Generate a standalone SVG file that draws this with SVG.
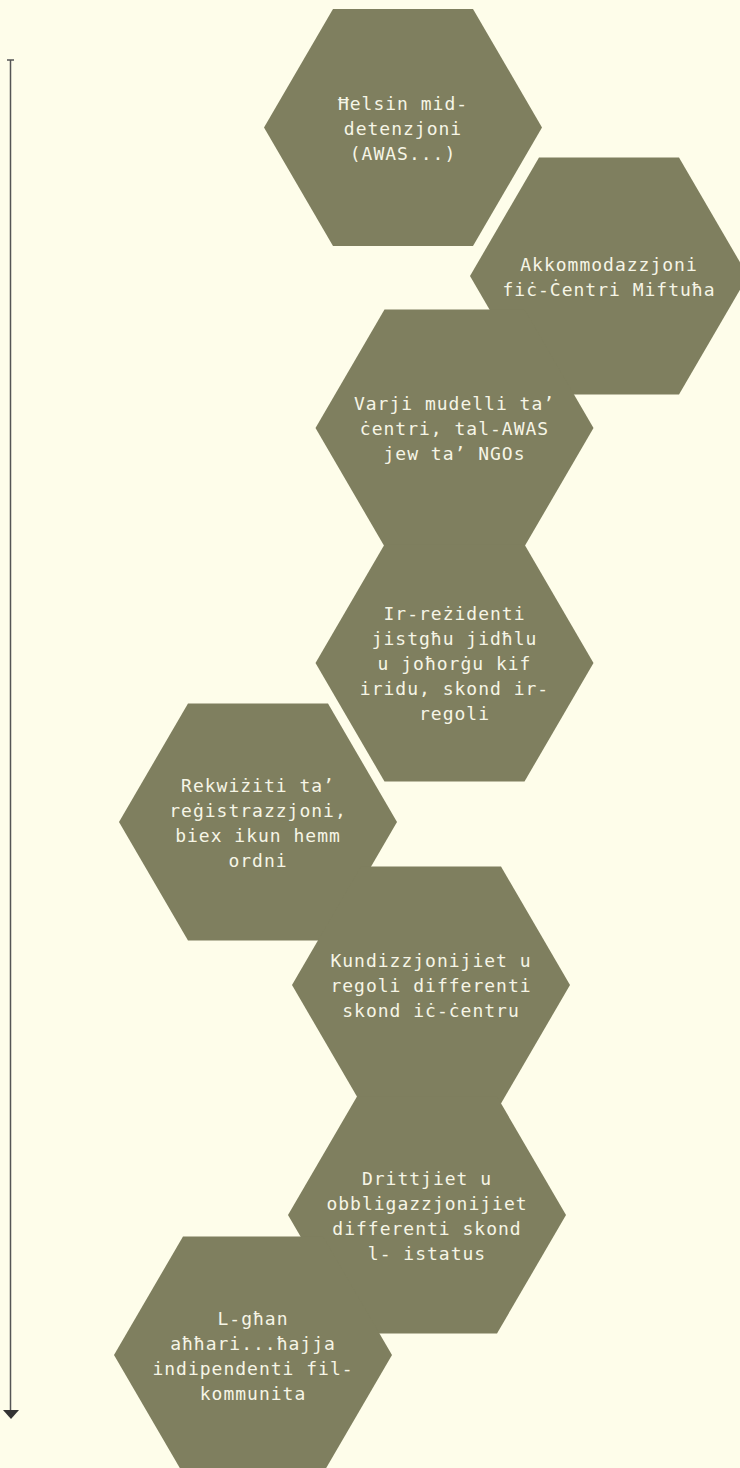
<svg xmlns="http://www.w3.org/2000/svg" width="740" height="1468" viewBox="0 0 740 1468">
<defs>
<style>
.bg{fill:#fefdea}
.hex{fill:#7f7f5f}
.t{fill:#f6f5e6;font-family:"DejaVu Sans Mono","Liberation Mono",monospace;font-size:18px;letter-spacing:1px;text-anchor:middle}
.axis{stroke:#555555;stroke-width:1.5;fill:none}
</style>
<marker id="ah" viewBox="0 0 10 10" refX="5" refY="5" markerWidth="10" markerHeight="10" markerUnits="userSpaceOnUse" orient="auto">
<path d="M0,0 L10,5 L0,10 Z" fill="#333333"/>
</marker>
</defs>
<rect class="bg" x="0" y="0" width="740" height="1468"/>
<g id="connectors">
<line class="axis" x1="10.5" y1="60" x2="10.5" y2="1410"/>
<line class="axis" x1="7" y1="60" x2="14" y2="60"/>
<path d="M3,1410 L19,1410 L11,1419 Z" fill="#333333"/>
</g>
<g id="n1">
<polygon class="hex" points="264,127.5 333,9 473,9 542,127.5 473,246 333,246"/>
<text class="t"><tspan x="403" y="110">Ħelsin mid-</tspan><tspan x="403" y="135">detenzjoni</tspan><tspan x="403" y="160">(AWAS...)</tspan></text>
</g>
<g id="n2">
<polygon class="hex" points="470,276 539,157.5 679,157.5 748,276 679,394.5 539,394.5"/>
<text class="t"><tspan x="609" y="270.5">Akkommodazzjoni</tspan><tspan x="609" y="295.5">fiċ-Ċentri Miftuħa</tspan></text>
</g>
<g id="n3">
<polygon class="hex" points="315.5,428 384.5,309.5 524.5,309.5 593.5,428 524.5,546.5 384.5,546.5"/>
<text class="t"><tspan x="454.5" y="410">Varji mudelli ta’</tspan><tspan x="454.5" y="435">ċentri, tal-AWAS</tspan><tspan x="454.5" y="460">jew ta’ NGOs</tspan></text>
</g>
<g id="n4">
<polygon class="hex" points="315.5,663 384.5,544.5 524.5,544.5 593.5,663 524.5,781.5 384.5,781.5"/>
<text class="t"><tspan x="454.5" y="620">Ir-reżidenti</tspan><tspan x="454.5" y="645">jistgħu jidħlu</tspan><tspan x="454.5" y="670">u joħorġu kif</tspan><tspan x="454.5" y="695">iridu, skond ir-</tspan><tspan x="454.5" y="720">regoli</tspan></text>
</g>
<g id="n5">
<polygon class="hex" points="119,822 188,703.5 328,703.5 397,822 328,940.5 188,940.5"/>
<text class="t"><tspan x="258" y="791.5">Rekwiżiti ta’</tspan><tspan x="258" y="816.5">reġistrazzjoni,</tspan><tspan x="258" y="841.5">biex ikun hemm</tspan><tspan x="258" y="866.5">ordni</tspan></text>
</g>
<g id="n6">
<polygon class="hex" points="292,985 361,866.5 501,866.5 570,985 501,1103.5 361,1103.5"/>
<text class="t"><tspan x="431" y="967">Kundizzjonijiet u</tspan><tspan x="431" y="992">regoli differenti</tspan><tspan x="431" y="1017">skond iċ-ċentru</tspan></text>
</g>
<g id="n7">
<polygon class="hex" points="288,1215 357,1096.5 497,1096.5 566,1215 497,1333.5 357,1333.5"/>
<text class="t"><tspan x="427" y="1184.5">Drittjiet u</tspan><tspan x="427" y="1209.5">obbligazzjonijiet</tspan><tspan x="427" y="1234.5">differenti skond</tspan><tspan x="427" y="1259.5">l- istatus</tspan></text>
</g>
<g id="n8">
<polygon class="hex" points="114,1355 183,1236.5 323,1236.5 392,1355 323,1473.5 183,1473.5"/>
<text class="t"><tspan x="253" y="1324.5">L-għan</tspan><tspan x="253" y="1349.5">aħħari...ħajja</tspan><tspan x="253" y="1374.5">indipendenti fil-</tspan><tspan x="253" y="1399.5">kommunita</tspan></text>
</g>
</svg>
